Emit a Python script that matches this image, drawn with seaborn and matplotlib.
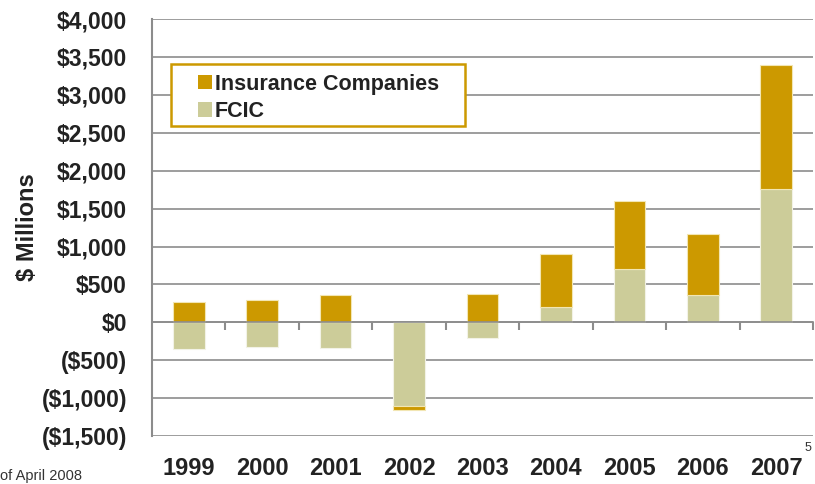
import numpy as np
import pandas as pd
import matplotlib
matplotlib.use("Agg")
import matplotlib.pyplot as plt
from matplotlib.patches import Rectangle
import seaborn as sns

# data ($ millions)
years = ["1999", "2000", "2001", "2002", "2003", "2004", "2005", "2006", "2007"]
fcic = [-356, -326, -343, -1099, -211, 202, 699, 356, 1759]
insurance = [268, 290, 360, -58, 379, 695, 906, 814, 1631]
ytick_values = [-1500, -1000, -500, 0, 500, 1000, 1500, 2000, 2500, 3000, 3500, 4000]

GOLD = "#CC9900"
KHAKI = "#CCCC99"

df = pd.DataFrame({"Year": years, "FCIC": fcic, "Insurance": insurance})
# insurance stacks on FCIC when both go the same way, else it starts at 0
df["base"] = np.where(np.sign(df["FCIC"]) == np.sign(df["Insurance"]), df["FCIC"], 0)

sns.set_style("whitegrid")
plt.rcParams["font.family"] = ["Liberation Sans", "DejaVu Sans"]

fig = plt.figure(figsize=(8.15, 4.84), dpi=100)
ax = fig.add_axes([0.1865, 0.099, 0.811, 0.8617])

sns.barplot(data=df, x="Year", y="FCIC", color=KHAKI, width=0.43,
            edgecolor="#F2F2E6", linewidth=0.8, saturation=1, ax=ax,
            label="FCIC")
sns.barplot(data=df, x="Year", y="Insurance", color=GOLD, width=0.43,
            edgecolor="#F2E6B3", linewidth=0.8, saturation=1, ax=ax,
            bottom=df["base"].values, label="Insurance Companies")

ax.set_ylim(-1500, 4000)
ax.set_xlim(-0.5, 8.5)
ax.set_yticks(ytick_values)
ax.set_yticklabels([f"${v:,}" if v >= 0 else f"(${-v:,})" for v in ytick_values],
                   fontsize=16.5, fontweight="bold", color="#222222")
ax.grid(axis="y", color="#8C8C8C", linewidth=1.2)
ax.grid(axis="x", visible=False)
ax.set_axisbelow(True)

# category axis sits on the zero line, labels stay at the bottom
for s in ["top", "right"]:
    ax.spines[s].set_visible(False)
ax.spines["left"].set_color("#8C8C8C")
ax.spines["left"].set_linewidth(1.5)
ax.spines["bottom"].set_position(("data", 0))
ax.spines["bottom"].set_color("#8C8C8C")
ax.spines["bottom"].set_linewidth(1.2)
ax.set_xticks(np.arange(len(years)) + 0.5, minor=True)
ax.tick_params(axis="x", which="minor", bottom=True, length=6, width=1.5, color="#8C8C8C", direction="out")
ax.tick_params(axis="x", which="major", length=0, pad=97)
ax.tick_params(axis="y", length=0, pad=18)
ax.set_xticks(range(len(years)))
ax.set_xticklabels(years, fontsize=17, fontweight="bold", color="#222222")
ax.set_xlabel("")
ax.set_ylabel("$ Millions", fontsize=17, fontweight="bold", color="#222222", labelpad=2)

# legend box
ax.add_patch(Rectangle((0.0287, 0.743), 0.445, 0.149, transform=ax.transAxes,
                       facecolor="white", edgecolor=GOLD, linewidth=1.8, zorder=4))
handles, labels = ax.get_legend_handles_labels()
order = [labels.index("Insurance Companies"), labels.index("FCIC")]
leg = ax.legend([handles[i] for i in order], [labels[i] for i in order],
                loc="center left", bbox_to_anchor=(0.069, 0.811), frameon=False,
                prop={"size": 15.5, "weight": "bold"}, handlelength=0.65,
                handleheight=0.65, handletextpad=0.15, borderpad=0,
                labelspacing=0.3, borderaxespad=0)
leg.set_zorder(5)
for h in leg.legend_handles:
    h.set_edgecolor("none")
for t in leg.get_texts():
    t.set_color("#222222")

fig.text(0.995, 1 - 448 / 484, "5", fontsize=9, ha="right", va="center", color="#333333")
fig.text(0.0, 0.003, "of April 2008", fontsize=10.5, ha="left", va="bottom", color="#333333")

fig.savefig("out.png", dpi=100)
